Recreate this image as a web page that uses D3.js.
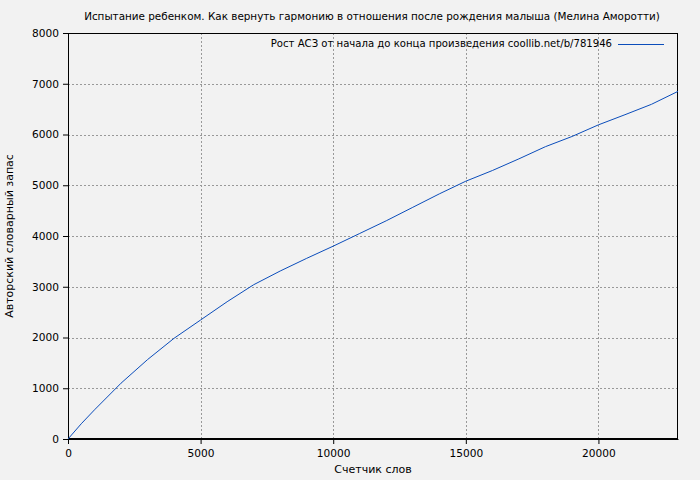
<!DOCTYPE html>
<html><head><meta charset="utf-8">
<script src="https://cdn.jsdelivr.net/npm/d3@7"></script>
<style>body{margin:0;background:#f2f2f2;} svg{display:block;}</style>
</head><body>
<script>
const title = "Испытание ребенком. Как вернуть гармонию в отношения после рождения малыша (Мелина Аморотти)";
const seriesName = "Рост АСЗ от начала до конца произведения coollib.net/b/781946";
const xLabel = "Счетчик слов";
const yLabel = "Авторский словарный запас";
const words = [0, 500, 1000, 2000, 3000, 4000, 5000, 6000, 7000, 8000, 9000, 10000, 11000, 12000, 13000, 14000, 15000, 16000, 17000, 18000, 19000, 20000, 21000, 22000, 23000];
const vocab = [0, 300, 575, 1100, 1565, 1985, 2345, 2705, 3040, 3310, 3560, 3800, 4050, 4300, 4565, 4830, 5080, 5290, 5520, 5760, 5960, 6190, 6390, 6595, 6850];
const xTicks = [0, 5000, 10000, 15000, 20000];
const yTicks = [0, 1000, 2000, 3000, 4000, 5000, 6000, 7000, 8000];

const W = 700, H = 480;
const m = {left: 68, right: 22, top: 33, bottom: 41};
const FONT = "'DejaVu Sans', Verdana, sans-serif";
const svg = d3.select("body").append("svg").attr("width", W).attr("height", H)
  .style("font-family", FONT).style("font-size", "11px");
svg.append("rect").attr("width", W).attr("height", H).attr("fill", "#f2f2f2");

const x = d3.scaleLinear().domain([0, 23000]).range([m.left, W - m.right]);
const y = d3.scaleLinear().domain([0, 8000]).range([H - m.bottom, m.top]);

// grid
svg.append("g").selectAll("line").data(xTicks.slice(1)).join("line")
  .attr("x1", d => Math.round(x(d)) + 0.5).attr("x2", d => Math.round(x(d)) + 0.5)
  .attr("y1", m.top).attr("y2", H - m.bottom)
  .attr("stroke", "#999").attr("stroke-dasharray", "2,2");
svg.append("g").selectAll("line").data(yTicks.slice(1, -1)).join("line")
  .attr("y1", d => Math.round(y(d)) + 0.5).attr("y2", d => Math.round(y(d)) + 0.5)
  .attr("x1", m.left).attr("x2", W - m.right)
  .attr("stroke", "#999").attr("stroke-dasharray", "2,2");

// axes
const xAxis = d3.axisBottom(x).tickValues(xTicks).tickSize(5).tickSizeOuter(0).tickFormat(d3.format("d"));
const yAxis = d3.axisLeft(y).tickValues(yTicks).tickSize(5).tickSizeOuter(0).tickFormat(d3.format("d"));
const gx = svg.append("g").attr("transform", `translate(0,${H - m.bottom})`).call(xAxis);
const gy = svg.append("g").attr("transform", `translate(${m.left},0)`).call(yAxis);
[gx, gy].forEach(g => {
  g.selectAll("text").attr("fill", "#000").style("font-size", "10.6px").style("font-family", FONT);
  g.selectAll("line,path").attr("stroke", "#000");
});
gx.selectAll("text").attr("dy", "0.71em").attr("y", 10);
gy.selectAll("text").attr("x", -9);

// frame
svg.append("rect").attr("x", m.left + 0.5).attr("y", m.top + 0.5)
  .attr("width", W - m.left - m.right - 1).attr("height", H - m.top - m.bottom - 1)
  .attr("fill", "none").attr("stroke", "#000");

// line
const pts = words.map((w, i) => [w, vocab[i]]);
svg.append("path").datum(pts)
  .attr("d", d3.line().x(d => x(d[0])).y(d => y(d[1])))
  .attr("fill", "none").attr("stroke", "#0b4dbb").attr("stroke-width", 1);

// title
svg.append("text").attr("x", 372).attr("y", 20).attr("text-anchor", "middle")
  .style("font-size", "10.4px").text(title);
// legend
svg.append("text").attr("x", 612).attr("y", 47).attr("text-anchor", "end")
  .style("font-size", "10.1px").text(seriesName);
svg.append("line").attr("x1", 618).attr("x2", 664).attr("y1", 44.5).attr("y2", 44.5).attr("stroke", "#0b4dbb");
// axis labels
svg.append("text").attr("x", 373).attr("y", 473).attr("text-anchor", "middle").text(xLabel);
svg.append("text").attr("transform", `translate(13,${(m.top + H - m.bottom) / 2}) rotate(-90)`)
  .attr("text-anchor", "middle").text(yLabel);
</script>
</body></html>
